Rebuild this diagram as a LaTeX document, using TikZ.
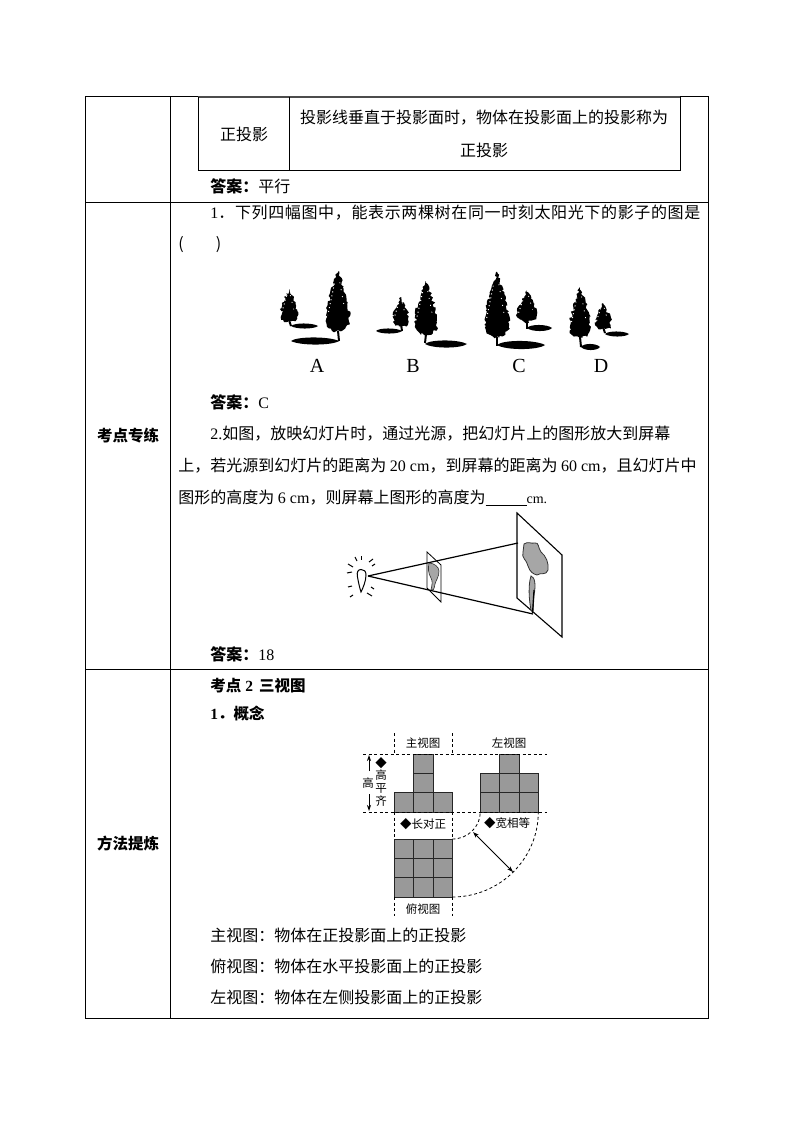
\documentclass[tikz,border=0pt]{standalone}
\usepackage{fontspec}
\setmainfont{Liberation Serif}
\newfontfamily\cjk{Noto Sans CJK SC}
\usetikzlibrary{decorations.pathmorphing,arrows.meta}
\newcommand{\lat}[1]{{\rmfamily #1}}
\newcommand{\lsp}[1]{\addfontfeature{LetterSpace=#1}}
% one tree: x of axis, top, bottom of crown, half width, foot x, foot y
\newcommand{\treeshape}[6]{
	\fill[treeedge] (#1,#2) .. controls ({#1+.3*#4},{#2+.2*(#3-#2)}) and ({#1+1.05*#4},{#2+.5*(#3-#2)}) .. ({#1+.95*#4},{#2+.82*(#3-#2)})
		.. controls ({#1+.7*#4},{#3}) and ({#1-.7*#4},{#3}) .. ({#1-.95*#4},{#2+.82*(#3-#2)})
		.. controls ({#1-1.05*#4},{#2+.5*(#3-#2)}) and ({#1-.3*#4},{#2+.2*(#3-#2)}) .. cycle;
	\draw[line width=2pt] (#1,{#3-3}) -- (#5,#6);
	\draw[white,line width=1pt,dash pattern=on 1pt off 3pt] ({#1-.3*#4},{#2+.2*(#3-#2)}) -- ({#1-.85*#4},{#2+.7*(#3-#2)});
	\draw[white,line width=.8pt,dash pattern=on 1pt off 6pt] ({#1+.15*#4},{#2+.18*(#3-#2)}) -- ({#1+.55*#4},{#2+.6*(#3-#2)});
}
% one shadow: left x, right x, y, half height
\newcommand{\shadowshape}[4]{
	\fill (#1,#3) .. controls ({#1+.12*(#2-#1)},{#3-#4*1.35}) and ({#1+.8*(#2-#1)},{#3-#4*1.35}) .. (#2,#3)
		.. controls ({#1+.85*(#2-#1)},{#3+#4*1.35}) and ({#1+.18*(#2-#1)},{#3+#4*1.35}) .. cycle;
}
\begin{document}
\begin{tikzpicture}[x=1pt,y=-1pt,
	line width=.8pt,
	txt/.style={anchor=west,inner sep=0pt,font=\cjk\fontsize{16}{16}\selectfont},
	mid/.style={txt,anchor=center},
	head/.style={mid,font=\cjk\bfseries\fontsize{15.5}{15.5}\selectfont},
	subhead/.style={txt,font=\cjk\bfseries\fontsize{15.5}{15.5}\selectfont},
	optlabel/.style={mid,font=\rmfamily\fontsize{20}{20}\selectfont},
	viewlabel/.style={mid,font=\cjk\fontsize{11.5}{12}\selectfont},
	treeedge/.style={decorate,decoration={random steps,segment length=2pt,amplitude=1.5pt}},
	cell/.style={draw=black!85,fill=black!40,line width=.8pt},
	guide/.style={dashed,line width=.8pt,dash pattern=on 3pt off 2.5pt},
	dim/.style={-{Stealth[length=6pt,width=4pt]},line width=.8pt}]
	\useasboundingbox (0,0) rectangle (794,1123);
	\fill[white] (0,0) rectangle (794,1123);
	% Table
	\draw (85,96.5) rectangle (708,1018.5);
	\draw (170.5,96.5) -- (170.5,1018.5);
	\draw (85,202.5) -- (708,202.5);
	\draw (85,669.5) -- (708,669.5);
	\draw[line width=1.4pt,black!70] (198,97) -- (680,97);
	\draw (198.5,97) -- (198.5,170) -- (680.5,170) -- (680.5,97);
	\draw (289.5,97) -- (289.5,170);
	% Text of the cells
	\node[mid] (zty) at (244,134) {正投影};
	\node[mid] (ztydef) at (484,118) {投影线垂直于投影面时，物体在投影面上的投影称为};
	\node[mid] (ztydeftwo) at (484,150) {正投影};
	\node[txt] (ansa) at (210,186) {\bfseries 答案：\mdseries 平行};
	\node[head] (kdzl) at (128,436) {考点专练};
	\node[head] (fftl) at (128,844) {方法提炼};
	\node[txt] (qone) at (210,213) {\lsp{4}\lat{1}．下列四幅图中，能表示两棵树在同一时刻太阳光下的影子的图是};
	\node[txt] (qonetwo) at (178,245) {(\hspace{32pt})};
	\node[txt] (ansb) at (210,402) {\bfseries 答案：\mdseries\lat{C}};
	\node[txt] (qtwo) at (210,434) {\lat{2.}如图，放映幻灯片时，通过光源，把幻灯片上的图形放大到屏幕};
	\node[txt] (qtwob) at (178,466) {上，若光源到幻灯片的距离为 \lat{20 cm}，到屏幕的距离为 \lat{60 cm}，且幻灯片中};
	\node[txt] (qtwoc) at (178,498) {图形的高度为 \lat{6 cm}，则屏幕上图形的高度为\rule[-2pt]{41pt}{.7pt}\lat{\fontsize{14}{14}\selectfont cm.}};
	\node[txt] (ansc) at (210,654) {\bfseries 答案：\mdseries\lat{18}};
	\node[subhead] (kdtwo) at (210,686) {考点\lat{\bfseries\ 2}\hspace{6pt}三视图};
	\node[subhead] (gn) at (210,714) {\lat{\bfseries 1}．概念};
	\node[txt] (zsd) at (210,935) {主视图：物体在正投影面上的正投影};
	\node[txt] (fsd) at (210,966) {俯视图：物体在水平投影面上的正投影};
	\node[txt] (zsdb) at (210,997) {左视图：物体在左侧投影面上的正投影};
	% Trees
	\pgfmathsetseed{7}
	\treeshape{289}{289}{323}{8.5}{291}{326}
	\treeshape{338}{271}{334}{12}{339}{341}
	\shadowshape{291}{318}{326}{2.5}
	\shadowshape{291}{339}{341}{3.5}
	\treeshape{401}{297}{327}{8}{402}{331}
	\treeshape{426}{281}{337}{11.5}{425}{343}
	\shadowshape{376}{402}{331}{2.5}
	\shadowshape{425}{467}{344}{3.5}
	\treeshape{497}{272}{340}{12.5}{497}{346}
	\treeshape{527}{290}{323}{10}{527}{329}
	\shadowshape{497}{545}{345}{4}
	\shadowshape{527}{552}{328}{3}
	\treeshape{580}{287}{340}{10.5}{581}{347}
	\treeshape{603}{303}{330}{8}{605}{333}
	\shadowshape{581}{600}{347}{3}
	\shadowshape{605}{629}{334}{2.5}
	\node[optlabel] (opta) at (317,366) {A};
	\node[optlabel] (optb) at (413,366) {B};
	\node[optlabel] (optc) at (519,366) {C};
	\node[optlabel] (optd) at (601,366) {D};
	% Lamp, slide and screen
	\draw[line width=1pt] (361,569.5) .. controls (358,569.5) and (356.5,572) .. (357.5,577) .. controls (358.5,583) and (360,589) .. (361,592)
		.. controls (363,588) and (366,581) .. (366,575) .. controls (366,571) and (364,569.5) .. (361,569.5) -- cycle;
	\foreach \xa/\ya/\xb/\yb in {355/557/357/561,361/556/361/560,373/559/369/562,348/564/353/567,347/573/352/572,348/587/352/586,350/597/353/595,372/566/375/564,367/593/372/596,371/587/374/589}
		\draw[line width=1pt] (\xa,\ya) -- (\xb,\yb);
	\coordinate (lamp) at (368,576);
	\coordinate (scrtop) at (518,543);
	\coordinate (scrbot) at (533,614);
	\draw (427,552) -- (441,565) -- (441,602) -- (427,588) -- cycle;
	\fill[black!35,draw=black!80,line width=.6pt] (429,563) .. controls (434,563) and (439,567) .. (439,571) .. controls (439,577) and (436,580) .. (435,584) .. controls (434,590) and (433,591) .. (431,590) .. controls (432,584) and (433,582) .. (431,578) .. controls (428,573) and (428,568) .. (429,563) -- cycle;
	\draw[line width=1.2pt] (lamp) -- (scrtop);
	\draw[line width=1.2pt] (lamp) -- (scrbot);
	\draw[line width=1.1pt] (517,513) -- (562,555) -- (562,637) -- (517,598) -- cycle;
	\fill[black!35,draw=black!80,line width=.8pt] (524,544) .. controls (528,541) and (531,544) .. (535,543) .. controls (539,542) and (538,548) .. (541,552) .. controls (546,556) and (549,563) .. (548,570) .. controls (546,576) and (541,572) .. (537,575) .. controls (533,574) and (530,572) .. (528,566) .. controls (527,560) and (521,558) .. (523,552) -- cycle;
	\fill[black!35,draw=black!80,line width=.8pt] (531,576) .. controls (535,577) and (536,585) .. (534,595) -- (533,612) -- (531,610) .. controls (529,600) and (528,585) .. (531,576) -- cycle;
	\draw[line width=1.2pt] (534,590) -- (532.5,613);
	% Three views
	\foreach \col/\row in {0/2,1/2,2/2,1/1,1/0}
		\draw[cell] ({394.3+19.35*\col},{754+19.35*\row}) rectangle ++(19.35,19.35);
	\foreach \col/\row in {0/2,1/2,2/2,0/1,1/1,2/1,1/0}
		\draw[cell] ({480.3+19.35*\col},{754+19.35*\row}) rectangle ++(19.35,19.35);
	\foreach \col in {0,1,2}
		\foreach \row in {0,1,2}
			\draw[cell] ({394.3+19.35*\col},{839+19.35*\row}) rectangle ++(19.35,19.35);
	\draw[guide] (363,754) -- (547,754);
	\draw[guide] (363,812) -- (547,812);
	\draw[guide] (394.3,733) -- (394.3,754) (394.3,812) -- (394.3,839) (394.3,897) -- (394.3,916);
	\draw[guide] (452.3,733) -- (452.3,754) (452.3,812) -- (452.3,839) (452.3,897) -- (452.3,916);
	\draw[guide] (452.3,839) arc[start angle=270,end angle=360,x radius=28pt,y radius=27pt];
	\draw[guide] (452.3,897) arc[start angle=270,end angle=360,x radius=86pt,y radius=85pt];
	\coordinate (arcin) at (473,832);
	\coordinate (arcout) at (513,872);
	\draw[{Stealth[length=6pt,width=4pt]}-{Stealth[length=6pt,width=4pt]},line width=.8pt] (arcin) -- (arcout);
	\coordinate (hightop) at (369,755);
	\coordinate (highup) at (369,771);
	\coordinate (highdown) at (369,794);
	\coordinate (highbot) at (369,811);
	\draw[dim] (highup) -- (hightop);
	\draw[dim] (highdown) -- (highbot);
	\node[viewlabel] (zst) at (423,743) {主视图};
	\node[viewlabel] (zuo) at (509,743) {左视图};
	\node[viewlabel] (fst) at (423,909) {俯视图};
	\node[viewlabel] (cdz) at (423,824.5) {◆长对正};
	\node[viewlabel] (kxd) at (507,823) {◆宽相等};
	\node[viewlabel] (gpa) at (381,763) {◆};
	\node[viewlabel] (gpb) at (381,775) {高};
	\node[viewlabel] (gpc) at (381,788) {平};
	\node[viewlabel] (gpd) at (381,801) {齐};
	\node[viewlabel] (gao) at (368,783) {高};
\end{tikzpicture}
\end{document}
